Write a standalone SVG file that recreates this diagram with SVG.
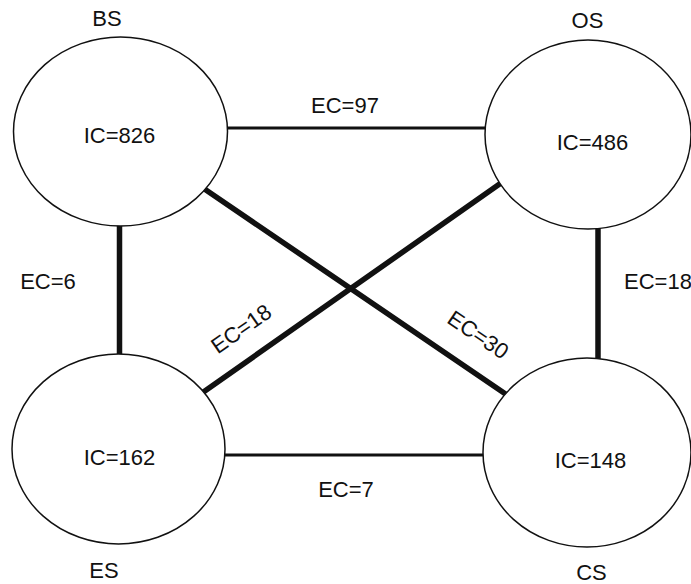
<svg xmlns="http://www.w3.org/2000/svg" width="691" height="584" viewBox="0 0 691 584">
<style>
.node ellipse{fill:#fff;stroke:#111;stroke-width:1.5}
text{font-family:"Liberation Sans",Arial,sans-serif;font-size:22px;fill:#111}
.c{text-anchor:middle}
.thick{stroke:#111;stroke-width:5.5;stroke-linecap:round}
.thin{stroke:#111;stroke-width:3}
</style>
<rect width="691" height="584" fill="#fff"/>
<g id="connectors">
<line class="thin" x1="228" y1="128" x2="485" y2="128"/>
<line class="thin" x1="225" y1="455" x2="483" y2="455"/>
<line class="thick" x1="119.5" y1="226" x2="119.5" y2="354"/>
<line class="thick" x1="598" y1="229" x2="598" y2="358"/>
<line class="thick" x1="203" y1="188" x2="507" y2="395"/>
<line class="thick" x1="501" y1="183" x2="202" y2="393"/>
<text class="c" x="345" y="113">EC=97</text>
<text class="c" x="48" y="289">EC=6</text>
<text x="624" y="289">EC=18</text>
<text class="c" x="346" y="497">EC=7</text>
<text class="c" transform="translate(245.5,335) rotate(-35)">EC=18</text>
<text class="c" transform="translate(474,341) rotate(34)">EC=30</text>
</g>
<g id="BS" class="node">
<ellipse cx="120.5" cy="131.5" rx="107" ry="94.5"/>
<text class="c" x="107" y="26">BS</text>
<text class="c" x="119.5" y="143">IC=826</text>
</g>
<g id="OS" class="node">
<ellipse cx="588" cy="134.5" rx="103" ry="94.5"/>
<text class="c" x="587.5" y="28">OS</text>
<text class="c" x="592.5" y="150">IC=486</text>
</g>
<g id="ES" class="node">
<ellipse cx="118.5" cy="449" rx="106.5" ry="95"/>
<text class="c" x="104" y="578">ES</text>
<text class="c" x="119.5" y="465">IC=162</text>
</g>
<g id="CS" class="node">
<ellipse cx="587" cy="452.5" rx="104" ry="94.5"/>
<text class="c" x="591.5" y="580">CS</text>
<text class="c" x="590.5" y="468">IC=148</text>
</g>
</svg>
